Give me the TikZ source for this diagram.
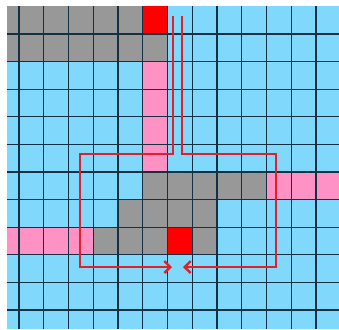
\documentclass[tikz,border=0pt]{standalone}
\usepackage{tikz}
\usetikzlibrary{arrows.meta}
\definecolor{cellblue}{RGB}{128,216,252}
\definecolor{cellgray}{RGB}{152,152,152}
\definecolor{cellpink}{RGB}{255,146,196}
\definecolor{cellred}{RGB}{255,0,0}
\definecolor{gridcol}{RGB}{20,48,66}
\definecolor{routered}{RGB}{226,32,40}
% one grid cell: column, row, colour
\newcommand{\gridcell}[3]{\fill[#3] ({19+24.75*#1},{6.4+27.6*#2}) rectangle ++(24.75,27.6);}

\begin{document}
\begin{tikzpicture}[x={(1pt,0)},y={(0,-1pt)},
  gridline/.style={draw=gridcol,line width=1.1pt},
  route/.style={draw=routered,line width=2.4pt,-{Straight Barb[length=6pt,width=12pt]}}]
\useasboundingbox (0,0) rectangle (339,329);
\begin{scope}
\clip (7,6.4) rectangle (339,329);
\fill[cellblue] (7,6.4) rectangle (339,329);
% blocked cells
\foreach \c in {-1,...,4} {\gridcell{\c}{0}{cellgray}}
\foreach \c in {-1,...,5} {\gridcell{\c}{1}{cellgray}}
\foreach \c in {5,...,9} {\gridcell{\c}{6}{cellgray}}
\foreach \c in {4,...,7} {\gridcell{\c}{7}{cellgray}}
\foreach \c in {3,4,5,7} {\gridcell{\c}{8}{cellgray}}
% pins
\gridcell{5}{0}{cellred}
\gridcell{6}{8}{cellred}
% existing wires
\foreach \r in {2,...,5} {\gridcell{5}{\r}{cellpink}}
\foreach \c in {10,11,12} {\gridcell{\c}{6}{cellpink}}
\foreach \c in {-1,...,2} {\gridcell{\c}{8}{cellpink}}
% grid
\foreach \k in {0,...,12} \draw[gridline] ({19+24.75*\k},6.4) -- ++(0,323);
\foreach \k in {0,...,10} \draw[gridline] (7,{34+27.6*\k}) -- (339,{34+27.6*\k});
\end{scope}
% search routes
\coordinate (srcL) at (173,16);
\coordinate (srcR) at (182,16);
\coordinate (tgtL) at (172,267);
\coordinate (tgtR) at (183,267);
\draw[route] (srcL) |- (80,154) |- (tgtL);
\draw[route] (srcR) |- (276,154) |- (tgtR);
\end{tikzpicture}
\end{document}
